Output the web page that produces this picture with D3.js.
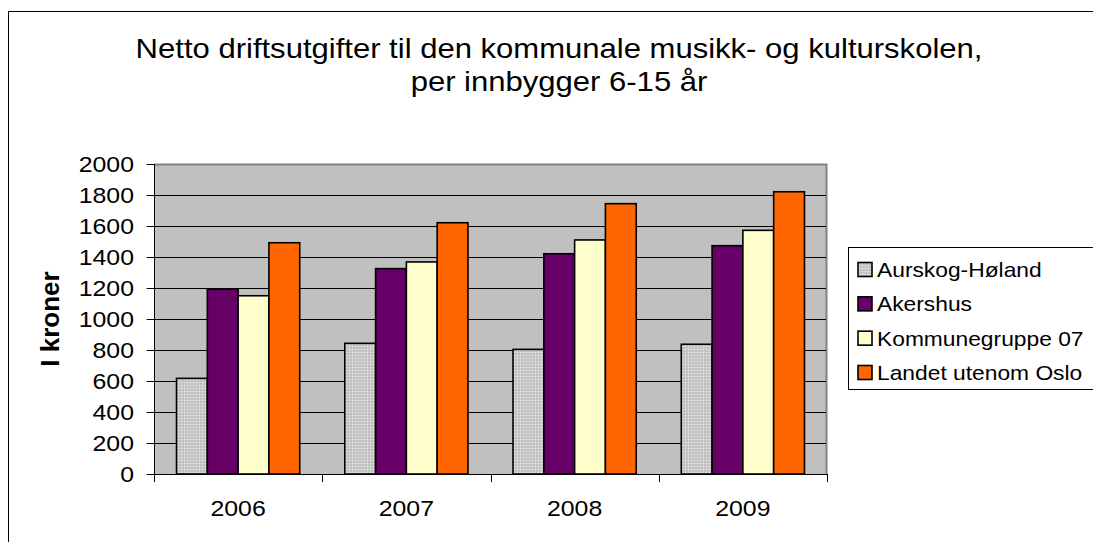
<!DOCTYPE html>
<html>
<head>
<meta charset="utf-8">
<script src="https://cdn.jsdelivr.net/npm/d3@7"></script>
<style>
  html, body { margin: 0; padding: 0; background: #fff; }
  svg { display: block; font-family: "Liberation Sans", Arial, sans-serif; }
</style>
</head>
<body>
<svg id="chart" width="1093" height="542"></svg>
<script>
// ---- data ----
const years = ["2006", "2007", "2008", "2009"];
const seriesNames = ["Aurskog-Høland", "Akershus", "Kommunegruppe 07", "Landet utenom Oslo"];
const aurskog = [617, 843, 804, 837];
const akershus = [1193, 1325, 1421, 1473];
const kommunegruppe = [1150, 1368, 1510, 1572];
const landet = [1492, 1621, 1744, 1821];
const yTicks = [0, 200, 400, 600, 800, 1000, 1200, 1400, 1600, 1800, 2000];
const titleLines = ["Netto driftsutgifter til den kommunale musikk- og kulturskolen,", "per innbygger 6-15 år"];
const yAxisTitle = "I kroner";

const seriesValues = [aurskog, akershus, kommunegruppe, landet];
const fills = ["url(#dots)", "#660066", "#ffffcc", "#ff6600"];

const svg = d3.select("#chart");
const sxText = 1.13;

// pattern for first series
const defs = svg.append("defs");
const pat = defs.append("pattern").attr("id", "dots").attr("patternUnits", "userSpaceOnUse")
  .attr("width", 3).attr("height", 3);
pat.append("rect").attr("width", 3).attr("height", 3).attr("fill", "#b4b4b4");
pat.append("rect").attr("x", 0.5).attr("y", 0.5).attr("width", 2).attr("height", 2).attr("fill", "#e6e6e6");

// outer chart border (top and left visible)
svg.append("path").attr("d", "M8.5,542 L8.5,11.5 L1093,11.5")
  .attr("fill", "none").attr("stroke", "#000").attr("stroke-width", 1);

// plot area
const plot = { left: 154, right: 827, top: 164, bottom: 474 };
const x = d3.scaleBand().domain(years).range([plot.left, plot.right]).paddingInner(0).paddingOuter(0);
const y = d3.scaleLinear().domain([0, 2000]).range([plot.bottom, plot.top]);

svg.append("rect").attr("x", plot.left).attr("y", plot.top)
  .attr("width", plot.right - plot.left).attr("height", plot.bottom - plot.top)
  .attr("fill", "#c0c0c0");
svg.append("path")
  .attr("d", `M${plot.left},${plot.top + 0.5} L${plot.right - 0.5},${plot.top + 0.5} L${plot.right - 0.5},${plot.bottom}`)
  .attr("fill", "none").attr("stroke", "#808080").attr("stroke-width", 2);

// gridlines
svg.append("g").selectAll("line").data(yTicks.filter(d => d > 0 && d < 2000)).join("line")
  .attr("x1", plot.left).attr("x2", plot.right - 1)
  .attr("y1", d => Math.round(y(d)) + 0.5).attr("y2", d => Math.round(y(d)) + 0.5)
  .attr("stroke", "#000").attr("stroke-width", 1);

// bars (Excel gap width ~150%)
const gapRatio = 45 / 168;
const groupW = x.bandwidth() * (1 - gapRatio);
const barW = groupW / seriesNames.length;
const groupOff = (x.bandwidth() - groupW) / 2;

const barData = [];
years.forEach((yr, i) => {
  seriesValues.forEach((vals, s) => {
    barData.push({ year: yr, s, v: vals[i] });
  });
});
svg.append("g").selectAll("rect").data(barData).join("rect")
  .attr("x", d => x(d.year) + groupOff + d.s * barW)
  .attr("y", d => y(d.v))
  .attr("width", barW)
  .attr("height", d => y(0) - y(d.v))
  .attr("fill", d => fills[d.s])
  .attr("stroke", "#000").attr("stroke-width", 1.6);

// y axis
const yAxis = d3.axisLeft(y).tickValues(yTicks).tickFormat(d3.format("d")).tickSize(8).tickPadding(12);
const gy = svg.append("g").attr("transform", `translate(${plot.left},0)`).call(yAxis);
gy.select(".domain").attr("d", `M0.5,${plot.top}V${plot.bottom}`).attr("stroke", "#000");
gy.selectAll(".tick line").attr("stroke", "#000").attr("transform", "translate(0.5,0)");
gy.selectAll(".tick text").attr("font-size", 22).attr("fill", "#000")
  .attr("font-family", "Liberation Sans, Arial, sans-serif")
  .attr("dy", "0.35em")
  .each(function () {
    const t = d3.select(this);
    const xx = +t.attr("x");
    t.attr("x", null).attr("transform", `translate(${xx},0) scale(${sxText},1)`);
  });

// x axis
const gx = svg.append("g").attr("transform", `translate(0,${plot.bottom})`);
gx.append("line").attr("x1", plot.left).attr("x2", plot.right).attr("y1", 0.5).attr("y2", 0.5)
  .attr("stroke", "#000");
const bounds = years.map(d => x(d)).concat([x(years[years.length - 1]) + x.bandwidth()]);
gx.selectAll("line.tk").data(bounds).join("line").attr("class", "tk")
  .attr("x1", d => Math.round(d) + 0.5).attr("x2", d => Math.round(d) + 0.5)
  .attr("y1", 0).attr("y2", 8).attr("stroke", "#000");
gx.selectAll("text").data(years).join("text")
  .attr("transform", d => `translate(${x(d) + x.bandwidth() / 2},42) scale(${sxText},1)`)
  .attr("text-anchor", "middle").attr("font-size", 22).attr("fill", "#000")
  .text(d => d);

// title
svg.append("g").selectAll("text").data(titleLines).join("text")
  .attr("transform", (d, i) => `translate(559,${58 + i * 33}) scale(1.15,1)`)
  .attr("text-anchor", "middle").attr("font-size", 27).attr("fill", "#000")
  .text(d => d);

// y axis title
svg.append("text")
  .attr("transform", "translate(59,319) rotate(-90)")
  .attr("text-anchor", "middle").attr("font-size", 26).attr("font-weight", "bold")
  .attr("fill", "#000").text(yAxisTitle);

// legend
const lg = svg.append("g");
lg.append("rect").attr("x", 848.5).attr("y", 247.5).attr("width", 260).attr("height", 142)
  .attr("fill", "#fff").attr("stroke", "#000").attr("stroke-width", 1);
const rowY = d3.scalePoint().domain(d3.range(seriesNames.length)).range([270, 373]);
const items = lg.selectAll("g.item").data(seriesNames).join("g").attr("class", "item")
  .attr("transform", (d, i) => `translate(0,${rowY(i)})`);
items.append("rect").attr("x", 858).attr("y", -7.5).attr("width", 14).attr("height", 14)
  .attr("fill", (d, i) => fills[i]).attr("stroke", "#000").attr("stroke-width", 1.6);
items.append("text").attr("transform", `translate(877,0) scale(1.14,1)`)
  .attr("dy", "0.35em").attr("font-size", 20).attr("fill", "#000").text(d => d);
</script>
</body>
</html>
